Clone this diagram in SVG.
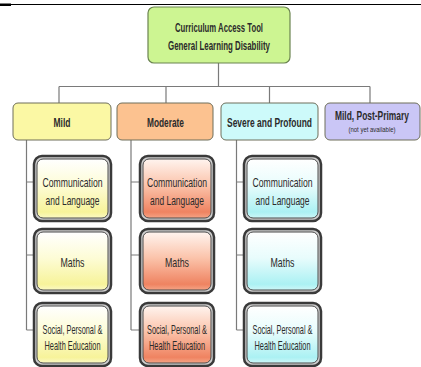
<svg xmlns="http://www.w3.org/2000/svg" width="421" height="367" viewBox="0 0 421 367">
<defs>
<linearGradient id="gY" x1="0" y1="0" x2="0" y2="1">
<stop offset="0" stop-color="#ffffff"/><stop offset="0.45" stop-color="#fdfcd6"/><stop offset="0.9" stop-color="#f7f39a"/><stop offset="1" stop-color="#fbf9c4"/>
</linearGradient>
<linearGradient id="gO" x1="0" y1="0" x2="0" y2="1">
<stop offset="0" stop-color="#fff4ef"/><stop offset="0.45" stop-color="#fbc3aa"/><stop offset="0.9" stop-color="#ef8361"/><stop offset="1" stop-color="#f5a486"/>
</linearGradient>
<linearGradient id="gC" x1="0" y1="0" x2="0" y2="1">
<stop offset="0" stop-color="#ffffff"/><stop offset="0.45" stop-color="#e8fcfc"/><stop offset="0.9" stop-color="#abf1f3"/><stop offset="1" stop-color="#cdf7f8"/>
</linearGradient>
<style>
.t{font-family:"Liberation Sans Narrow","Liberation Sans",Arial,sans-serif;fill:#2b2b2b;text-anchor:middle}
.b{font-weight:bold;font-size:13px}
.n{font-size:13px}
.l2{stroke:#6e6e5a;stroke-width:1}
.outer{fill:#cfcfcf;stroke:#3a3a3a;stroke-width:2.5}
.inner{stroke:#4a4a4a;stroke-width:1}
.con{fill:none;stroke:#7a7a7a;stroke-width:1.2}
</style>
</defs>
<g id="topline">
<line x1="0" y1="4.5" x2="421" y2="4.5" stroke="#000" stroke-width="1"/>
<rect x="0" y="3.5" width="11" height="2.5" fill="#000"/>
</g>
<g id="connectors">
<path class="con" d="M218.5 63V86.5M59 86.5H370M59 86.5V103M166 86.5V103M269.5 86.5V103M370 86.5V103"/>
<path class="con" d="M26.5 140V330M26.5 182H34M26.5 255H34M26.5 330H34"/>
<path class="con" d="M131 140V330M131 182H140M131 255H140M131 330H140"/>
<path class="con" d="M236.5 140V330M236.5 182H244M236.5 255H244M236.5 330H244"/>
</g>
<g id="root">
<rect x="148" y="7" width="142" height="56" rx="6" fill="#cdf592" stroke="#6b8450" stroke-width="1.2"/>
<text class="t b" x="219" y="31.5" textLength="88" lengthAdjust="spacingAndGlyphs">Curriculum Access Tool</text>
<text class="t b" x="219" y="49.5" textLength="102" lengthAdjust="spacingAndGlyphs">General Learning Disability</text>
</g>
<g id="mild">
<rect class="l2" x="13" y="103" width="98" height="37" rx="5" fill="#fbf8a4"/>
<text class="t b" x="62" y="126.5" textLength="17" lengthAdjust="spacingAndGlyphs">Mild</text>
</g>
<g id="moderate">
<rect class="l2" x="117" y="103" width="96" height="37" rx="5" fill="#fcc290"/>
<text class="t b" x="165.5" y="126.5" textLength="37" lengthAdjust="spacingAndGlyphs">Moderate</text>
</g>
<g id="severe">
<rect class="l2" x="221" y="103" width="97" height="37" rx="5" fill="#cdfafa"/>
<text class="t b" x="269.5" y="126.5" textLength="85" lengthAdjust="spacingAndGlyphs">Severe and Profound</text>
</g>
<g id="mildpp">
<rect class="l2" x="325" y="103" width="95" height="37" rx="5" fill="#cac6f6"/>
<text class="t" x="372" y="120" font-size="12" font-weight="bold" textLength="74" lengthAdjust="spacingAndGlyphs">Mild, Post-Primary</text>
<text class="t" x="372" y="132" font-size="6.5" textLength="47" lengthAdjust="spacingAndGlyphs">(not yet available)</text>
</g>
<g id="mild-comm">
<rect class="outer" x="34" y="156" width="77" height="65" rx="8"/>
<rect class="inner" x="37" y="159" width="71" height="59" rx="6" fill="url(#gY)"/>
<text class="t n" x="72.5" y="186.5" textLength="60" lengthAdjust="spacingAndGlyphs">Communication</text>
<text class="t n" x="72.5" y="204.5" textLength="54" lengthAdjust="spacingAndGlyphs">and Language</text>
</g>
<g id="mild-maths">
<rect class="outer" x="34" y="229" width="77" height="64" rx="8"/>
<rect class="inner" x="37" y="232" width="71" height="58" rx="6" fill="url(#gY)"/>
<text class="t n" x="72.5" y="266.5" textLength="24" lengthAdjust="spacingAndGlyphs">Maths</text>
</g>
<g id="mild-sphe">
<rect class="outer" x="34" y="303" width="77" height="63" rx="8"/>
<rect class="inner" x="37" y="306" width="71" height="57" rx="6" fill="url(#gY)"/>
<text class="t n" x="72.5" y="333.5" textLength="60" lengthAdjust="spacingAndGlyphs">Social, Personal &amp;</text>
<text class="t n" x="72.5" y="349.5" textLength="56" lengthAdjust="spacingAndGlyphs">Health Education</text>
</g>
<g id="mod-comm">
<rect class="outer" x="140" y="156" width="74" height="65" rx="8"/>
<rect class="inner" x="143" y="159" width="68" height="59" rx="6" fill="url(#gO)"/>
<text class="t n" x="177" y="186.5" textLength="60" lengthAdjust="spacingAndGlyphs">Communication</text>
<text class="t n" x="177" y="204.5" textLength="54" lengthAdjust="spacingAndGlyphs">and Language</text>
</g>
<g id="mod-maths">
<rect class="outer" x="140" y="229" width="74" height="64" rx="8"/>
<rect class="inner" x="143" y="232" width="68" height="58" rx="6" fill="url(#gO)"/>
<text class="t n" x="177" y="266.5" textLength="24" lengthAdjust="spacingAndGlyphs">Maths</text>
</g>
<g id="mod-sphe">
<rect class="outer" x="140" y="303" width="74" height="63" rx="8"/>
<rect class="inner" x="143" y="306" width="68" height="57" rx="6" fill="url(#gO)"/>
<text class="t n" x="177" y="333.5" textLength="60" lengthAdjust="spacingAndGlyphs">Social, Personal &amp;</text>
<text class="t n" x="177" y="349.5" textLength="56" lengthAdjust="spacingAndGlyphs">Health Education</text>
</g>
<g id="sev-comm">
<rect class="outer" x="244" y="156" width="77" height="65" rx="8"/>
<rect class="inner" x="247" y="159" width="71" height="59" rx="6" fill="url(#gC)"/>
<text class="t n" x="282.5" y="186.5" textLength="60" lengthAdjust="spacingAndGlyphs">Communication</text>
<text class="t n" x="282.5" y="204.5" textLength="54" lengthAdjust="spacingAndGlyphs">and Language</text>
</g>
<g id="sev-maths">
<rect class="outer" x="244" y="229" width="77" height="64" rx="8"/>
<rect class="inner" x="247" y="232" width="71" height="58" rx="6" fill="url(#gC)"/>
<text class="t n" x="282.5" y="266.5" textLength="24" lengthAdjust="spacingAndGlyphs">Maths</text>
</g>
<g id="sev-sphe">
<rect class="outer" x="244" y="303" width="77" height="63" rx="8"/>
<rect class="inner" x="247" y="306" width="71" height="57" rx="6" fill="url(#gC)"/>
<text class="t n" x="282.5" y="333.5" textLength="60" lengthAdjust="spacingAndGlyphs">Social, Personal &amp;</text>
<text class="t n" x="282.5" y="349.5" textLength="56" lengthAdjust="spacingAndGlyphs">Health Education</text>
</g>
</svg>
